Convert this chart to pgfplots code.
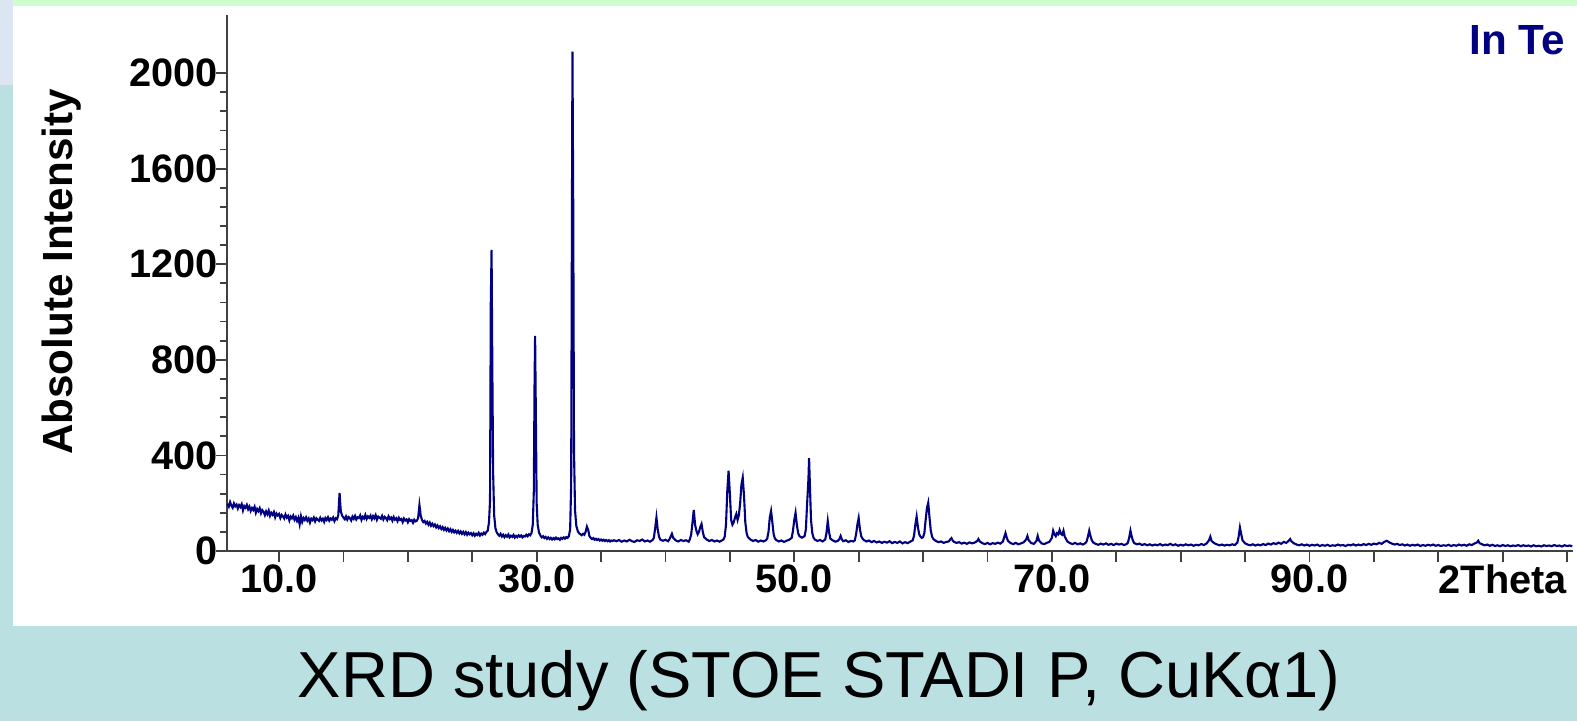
\documentclass[border=0pt]{standalone}
\usepackage{pgfplots}
\pgfplotsset{compat=1.18}
\usepackage{fontspec}
\setmainfont{Liberation Sans}
\definecolor{slideteal}{RGB}{186,224,226}
\definecolor{slidegreen}{RGB}{204,255,204}
\definecolor{slideblue}{RGB}{220,230,242}
\definecolor{xrdnavy}{RGB}{0,0,128}
\begin{document}
\begin{tikzpicture}
\useasboundingbox (0,0) rectangle (157.7mm,72.1mm);
% slide background
\fill[slideteal] (0,0) rectangle (157.7mm,72.1mm);
\fill[slideblue] (0,63.6mm) rectangle (1.3mm,72.1mm);
\fill[slidegreen] (1.3mm,71.5mm) rectangle (157.7mm,72.1mm);
\fill[white] (1.3mm,9.5mm) rectangle (157.7mm,71.5mm);

\begin{axis}[at={(22.7mm,17.0mm)},anchor=south west,scale only axis,
  width=134.6mm,height=53.6mm,
  xmin=5.96,xmax=110.46,ymin=0,ymax=2243,
  axis x line*=bottom,axis y line*=left,
  axis line style={-,line width=0.6pt,black!75},
  tick style={black!75,line width=0.5pt},
  tick align=outside,major tick length=1.1mm,minor tick length=0.7mm,
  xtick={10,15,...,110},
  xticklabels={10.0,{},{},{},30.0,{},{},{},50.0,{},{},{},70.0,{},{},{},90.0,{},{},2Theta,{}},
  ytick={0,400,...,2000},minor y tick num=4,
  /pgf/number format/1000 sep={},
  /pgf/number format/assume math mode=true,
  ticklabel style={font=\fontsize{11.3}{13}\selectfont\bfseries},
  yticklabel style={xshift=1.4mm},
  xticklabel style={yshift=1.0mm},
  clip=false]
\addplot[xrdnavy,line width=0.6pt] table[row sep=\\] {
6.0 198\\ 6.1 186\\ 6.2 205\\ 6.3 190\\ 6.4 181\\ 6.5 199\\ 6.6 187\\ 6.7 194\\ 6.8 178\\ 6.9 192\\
7.0 184\\ 7.1 196\\ 7.2 170\\ 7.3 188\\ 7.4 181\\ 7.5 193\\ 7.6 175\\ 7.7 186\\ 7.8 168\\ 7.9 180\\
8.0 172\\ 8.1 185\\ 8.2 160\\ 8.3 176\\ 8.4 167\\ 8.5 179\\ 8.6 158\\ 8.7 171\\ 8.8 164\\ 8.9 150\\
9.0 166\\ 9.1 154\\ 9.2 169\\ 9.3 147\\ 9.4 160\\ 9.5 152\\ 9.6 163\\ 9.7 141\\ 9.8 157\\ 9.9 149\\
10.0 155\\ 10.1 138\\ 10.2 151\\ 10.3 145\\ 10.4 136\\ 10.5 153\\ 10.6 140\\ 10.7 147\\ 10.8 128\\ 10.9 144\\
11.0 137\\ 11.1 148\\ 11.2 131\\ 11.3 142\\ 11.4 126\\ 11.5 139\\ 11.6 112\\ 11.7 145\\ 11.8 122\\ 11.9 138\\
12.0 130\\ 12.1 141\\ 12.2 127\\ 12.3 136\\ 12.4 119\\ 12.5 135\\ 12.6 129\\ 12.7 140\\ 12.8 124\\ 12.9 137\\
13.0 131\\ 13.1 126\\ 13.2 139\\ 13.3 128\\ 13.4 135\\ 13.5 122\\ 13.6 138\\ 13.7 130\\ 13.8 141\\ 13.9 127\\
14.0 136\\ 14.1 131\\ 14.2 140\\ 14.3 125\\ 14.4 137\\ 14.5 133\\ 14.6 150\\ 14.7 243\\ 14.75 200\\ 14.8 165\\ 14.9 148\\
15.0 140\\ 15.1 133\\ 15.2 145\\ 15.3 131\\ 15.4 142\\ 15.5 137\\ 15.6 128\\ 15.7 144\\ 15.8 135\\ 15.9 147\\
16.0 132\\ 16.1 141\\ 16.2 138\\ 16.3 149\\ 16.4 130\\ 16.5 143\\ 16.6 136\\ 16.7 151\\ 16.8 134\\ 16.9 145\\
17.0 139\\ 17.1 148\\ 17.2 133\\ 17.3 146\\ 17.4 137\\ 17.5 150\\ 17.6 131\\ 17.7 144\\ 17.8 140\\ 17.9 135\\
18.0 147\\ 18.1 132\\ 18.2 143\\ 18.3 138\\ 18.4 129\\ 18.5 145\\ 18.6 134\\ 18.7 140\\ 18.8 127\\ 18.9 142\\
19.0 131\\ 19.1 137\\ 19.2 125\\ 19.3 139\\ 19.4 130\\ 19.5 134\\ 19.6 121\\ 19.7 136\\ 19.8 128\\ 19.9 132\\
20.0 120\\ 20.1 133\\ 20.2 126\\ 20.3 129\\ 20.4 118\\ 20.5 131\\ 20.6 124\\ 20.7 127\\ 20.8 138\\ 20.9 192\\ 20.95 170\\
21.0 148\\ 21.1 130\\ 21.2 121\\ 21.3 126\\ 21.4 115\\ 21.5 122\\ 21.6 110\\ 21.7 119\\ 21.8 106\\ 21.9 114\\
22.0 104\\ 22.1 111\\ 22.2 99\\ 22.3 107\\ 22.4 96\\ 22.5 103\\ 22.6 92\\ 22.7 100\\ 22.8 89\\ 22.9 97\\
23.0 86\\ 23.1 94\\ 23.2 83\\ 23.3 91\\ 23.4 80\\ 23.5 88\\ 23.6 78\\ 23.7 85\\ 23.8 76\\ 23.9 84\\
24.0 74\\ 24.1 82\\ 24.2 72\\ 24.3 80\\ 24.4 70\\ 24.5 79\\ 24.6 68\\ 24.7 77\\ 24.8 70\\ 24.9 75\\
25.0 66\\ 25.1 74\\ 25.2 64\\ 25.3 72\\ 25.4 67\\ 25.5 76\\ 25.6 65\\ 25.7 73\\ 25.8 68\\ 25.9 77\\
26.0 71\\ 26.1 80\\ 26.2 85\\ 26.3 120\\ 26.38 210\\ 26.44 1040\\ 26.50 1260\\ 26.56 760\\ 26.62 330\\ 26.70 150\\ 26.80 95\\ 26.9 78\\
27.0 70\\ 27.1 64\\ 27.2 72\\ 27.3 61\\ 27.4 68\\ 27.5 58\\ 27.6 66\\ 27.7 60\\ 27.8 69\\ 27.9 57\\
28.0 64\\ 28.1 59\\ 28.2 67\\ 28.3 56\\ 28.4 63\\ 28.5 58\\ 28.6 66\\ 28.7 60\\ 28.8 65\\ 28.9 57\\
29.0 63\\ 29.1 61\\ 29.2 68\\ 29.3 62\\ 29.4 70\\ 29.5 66\\ 29.6 75\\ 29.7 110\\ 29.78 250\\ 29.84 720\\ 29.88 900\\ 29.94 560\\
30.00 200\\ 30.08 110\\ 30.18 78\\ 30.3 64\\ 30.4 57\\ 30.5 62\\ 30.6 54\\ 30.7 59\\ 30.8 51\\ 30.9 57\\
31.0 50\\ 31.1 55\\ 31.2 48\\ 31.3 54\\ 31.4 49\\ 31.5 56\\ 31.6 50\\ 31.7 53\\ 31.8 47\\ 31.9 55\\
32.0 51\\ 32.1 57\\ 32.2 52\\ 32.3 58\\ 32.4 55\\ 32.5 62\\ 32.6 90\\ 32.68 280\\ 32.74 1420\\ 32.78 2090\\ 32.84 1440\\ 32.90 420\\ 32.98 170\\
33.08 105\\ 33.2 82\\ 33.3 74\\ 33.4 70\\ 33.5 66\\ 33.6 72\\ 33.7 68\\ 33.8 80\\ 33.9 102\\
34.0 88\\ 34.1 62\\ 34.2 55\\ 34.3 50\\ 34.4 54\\ 34.5 47\\ 34.6 51\\ 34.7 46\\ 34.8 50\\ 34.9 44\\
35.0 48\\ 35.1 43\\ 35.2 47\\ 35.3 42\\ 35.4 46\\ 35.5 41\\ 35.6 45\\ 35.7 40\\ 35.8 44\\ 35.9 42\\
36.0 45\\ 36.2 41\\ 36.4 46\\ 36.6 39\\ 36.8 44\\ 37.0 40\\ 37.2 47\\ 37.4 41\\ 37.6 38\\ 37.8 45\\
38.0 42\\ 38.2 48\\ 38.4 40\\ 38.6 44\\ 38.8 39\\ 39.0 46\\ 39.1 55\\ 39.2 95\\ 39.3 140\\ 39.4 90\\ 39.5 60\\ 39.6 48\\ 39.8 43\\
40.0 47\\ 40.2 41\\ 40.3 48\\ 40.4 60\\ 40.5 72\\ 40.6 55\\ 40.8 44\\ 41.0 40\\ 41.2 46\\ 41.4 42\\ 41.6 45\\ 41.8 39\\ 41.9 50\\
42.0 70\\ 42.1 120\\ 42.2 172\\ 42.3 110\\ 42.4 85\\ 42.5 70\\ 42.6 80\\ 42.7 100\\ 42.8 113\\ 42.9 80\\ 43.0 58\\ 43.2 48\\ 43.4 42\\ 43.6 46\\ 43.8 40\\
44.0 44\\ 44.2 39\\ 44.4 45\\ 44.5 48\\ 44.6 60\\ 44.7 110\\ 44.8 250\\ 44.9 336\\ 45.0 240\\ 45.1 130\\ 45.2 110\\ 45.3 120\\ 45.4 140\\ 45.5 155\\ 45.6 130\\ 45.7 150\\ 45.8 200\\ 45.9 280\\
46.0 307\\ 46.1 230\\ 46.2 120\\ 46.3 75\\ 46.4 58\\ 46.6 48\\ 46.8 42\\ 47.0 46\\ 47.2 39\\ 47.4 44\\ 47.6 40\\ 47.8 45\\ 47.9 52\\
48.0 80\\ 48.1 140\\ 48.2 167\\ 48.3 120\\ 48.4 70\\ 48.5 52\\ 48.6 46\\ 48.8 40\\ 49.0 44\\ 49.2 38\\ 49.4 43\\ 49.6 47\\ 49.8 55\\ 49.9 85\\
50.0 130\\ 50.1 160\\ 50.2 110\\ 50.3 75\\ 50.4 62\\ 50.6 56\\ 50.8 62\\ 50.9 90\\ 51.0 200\\ 51.1 300\\ 51.15 389\\ 51.2 300\\ 51.3 130\\ 51.4 75\\ 51.5 55\\ 51.6 48\\ 51.8 42\\
52.0 46\\ 52.2 40\\ 52.4 48\\ 52.5 75\\ 52.6 125\\ 52.7 80\\ 52.8 52\\ 53.0 44\\ 53.2 39\\ 53.4 43\\ 53.5 50\\ 53.6 63\\ 53.7 48\\ 53.8 41\\
54.0 45\\ 54.2 38\\ 54.4 42\\ 54.6 40\\ 54.7 45\\ 54.8 70\\ 54.9 110\\ 55.0 138\\ 55.1 90\\ 55.2 62\\ 55.3 52\\ 55.4 46\\ 55.6 40\\ 55.8 44\\
56.0 37\\ 56.2 42\\ 56.4 36\\ 56.6 40\\ 56.8 34\\ 57.0 39\\ 57.2 35\\ 57.4 41\\ 57.6 33\\ 57.8 38\\
58.0 34\\ 58.2 40\\ 58.4 32\\ 58.6 37\\ 58.8 33\\ 59.0 39\\ 59.2 45\\ 59.3 65\\ 59.4 110\\ 59.5 144\\ 59.6 100\\ 59.7 70\\ 59.8 60\\ 59.9 55\\
60.0 58\\ 60.1 75\\ 60.2 130\\ 60.3 180\\ 60.4 202\\ 60.5 140\\ 60.6 85\\ 60.7 60\\ 60.8 50\\ 61.0 42\\ 61.2 37\\ 61.4 40\\ 61.6 34\\ 61.8 38\\
62.0 40\\ 62.1 48\\ 62.2 54\\ 62.3 44\\ 62.4 38\\ 62.6 34\\ 62.8 37\\ 63.0 31\\ 63.2 35\\ 63.4 30\\ 63.6 36\\ 63.8 32\\
64.0 35\\ 64.2 42\\ 64.3 50\\ 64.4 40\\ 64.6 33\\ 64.8 29\\ 65.0 34\\ 65.2 28\\ 65.4 33\\ 65.6 30\\ 65.8 35\\
66.0 31\\ 66.2 40\\ 66.3 58\\ 66.4 75\\ 66.5 55\\ 66.6 42\\ 66.8 33\\ 67.0 29\\ 67.2 34\\ 67.4 28\\ 67.6 32\\ 67.8 36\\
68.0 48\\ 68.1 63\\ 68.2 45\\ 68.4 33\\ 68.6 30\\ 68.8 42\\ 68.9 63\\ 69.0 44\\ 69.2 32\\ 69.4 29\\ 69.6 34\\ 69.8 38\\
70.0 55\\ 70.1 85\\ 70.2 70\\ 70.3 62\\ 70.4 75\\ 70.5 70\\ 70.6 88\\ 70.7 72\\ 70.8 68\\ 70.9 85\\ 71.0 60\\ 71.2 40\\ 71.4 33\\ 71.6 29\\ 71.8 34\\
72.0 28\\ 72.2 32\\ 72.4 27\\ 72.6 33\\ 72.7 40\\ 72.8 60\\ 72.9 85\\ 73.0 62\\ 73.1 45\\ 73.2 36\\ 73.4 30\\ 73.6 26\\ 73.8 31\\
74.0 27\\ 74.2 32\\ 74.4 26\\ 74.6 30\\ 74.8 25\\ 75.0 31\\ 75.2 27\\ 75.4 30\\ 75.6 25\\ 75.8 29\\ 75.9 35\\
76.0 55\\ 76.1 85\\ 76.2 60\\ 76.3 42\\ 76.4 33\\ 76.6 28\\ 76.8 31\\ 77.0 25\\ 77.2 29\\ 77.4 24\\ 77.6 28\\ 77.8 23\\
78.0 27\\ 78.2 24\\ 78.4 29\\ 78.6 23\\ 78.8 27\\ 79.0 25\\ 79.2 30\\ 79.4 24\\ 79.6 28\\ 79.8 22\\
80.0 26\\ 80.2 23\\ 80.4 28\\ 80.6 24\\ 80.8 27\\ 81.0 22\\ 81.2 26\\ 81.4 24\\ 81.6 29\\ 81.8 25\\
82.0 31\\ 82.2 45\\ 82.3 60\\ 82.4 42\\ 82.6 33\\ 82.8 28\\ 83.0 24\\ 83.2 27\\ 83.4 23\\ 83.6 26\\ 83.8 24\\
84.0 28\\ 84.2 25\\ 84.4 35\\ 84.5 60\\ 84.6 98\\ 84.7 70\\ 84.8 45\\ 85.0 32\\ 85.2 27\\ 85.4 24\\ 85.6 28\\ 85.8 23\\
86.0 27\\ 86.2 24\\ 86.4 29\\ 86.6 25\\ 86.8 31\\ 87.0 27\\ 87.2 33\\ 87.4 29\\ 87.6 35\\ 87.8 30\\
88.0 38\\ 88.2 34\\ 88.4 44\\ 88.5 50\\ 88.6 40\\ 88.8 32\\ 89.0 27\\ 89.2 24\\ 89.4 28\\ 89.6 23\\ 89.8 27\\
90.0 22\\ 90.2 26\\ 90.4 23\\ 90.6 27\\ 90.8 21\\ 91.0 25\\ 91.2 22\\ 91.4 26\\ 91.6 21\\ 91.8 24\\
92.0 22\\ 92.2 27\\ 92.4 23\\ 92.6 25\\ 92.8 21\\ 93.0 26\\ 93.2 24\\ 93.4 28\\ 93.6 23\\ 93.8 27\\
94.0 24\\ 94.2 29\\ 94.4 25\\ 94.6 30\\ 94.8 26\\ 95.0 31\\ 95.2 28\\ 95.4 34\\ 95.6 30\\ 95.8 38\\
96.0 43\\ 96.2 36\\ 96.4 31\\ 96.6 27\\ 96.8 30\\ 97.0 25\\ 97.2 28\\ 97.4 23\\ 97.6 27\\ 97.8 22\\
98.0 26\\ 98.2 23\\ 98.4 27\\ 98.6 21\\ 98.8 25\\ 99.0 22\\ 99.2 26\\ 99.4 23\\ 99.6 27\\ 99.8 22\\
100.0 25\\ 100.2 21\\ 100.4 24\\ 100.6 22\\ 100.8 26\\ 101.0 21\\ 101.2 25\\ 101.4 22\\ 101.6 27\\ 101.8 23\\
102.0 26\\ 102.2 22\\ 102.4 28\\ 102.6 25\\ 102.8 31\\ 103.0 36\\ 103.1 43\\ 103.2 33\\ 103.4 28\\ 103.6 24\\ 103.8 27\\
104.0 22\\ 104.2 26\\ 104.4 21\\ 104.6 24\\ 104.8 20\\ 105.0 25\\ 105.2 21\\ 105.4 24\\ 105.6 20\\ 105.8 23\\
106.0 21\\ 106.2 25\\ 106.4 20\\ 106.6 24\\ 106.8 21\\ 107.0 23\\ 107.2 19\\ 107.4 24\\ 107.6 20\\ 107.8 22\\
108.0 19\\ 108.2 24\\ 108.4 21\\ 108.6 23\\ 108.8 20\\ 109.0 25\\ 109.2 21\\ 109.4 23\\ 109.6 19\\ 109.8 24\\
110.0 21\\ 110.2 23\\ 110.4 20\\
};
\end{axis}

\node[rotate=90,anchor=base,font=\fontsize{12}{14}\selectfont\bfseries] at (7.2mm,44.9mm) {Absolute Intensity};
\node[anchor=base west,inner sep=0pt,text=xrdnavy,font=\fontsize{12}{14}\selectfont\bfseries] at (146.9mm,66.6mm) {In Te};
\node[anchor=base,inner sep=0pt,font=\fontsize{18.5}{22}\selectfont] at (81.9mm,2.4mm) {XRD study (STOE STADI P, CuKα1)};
\end{tikzpicture}
\end{document}
